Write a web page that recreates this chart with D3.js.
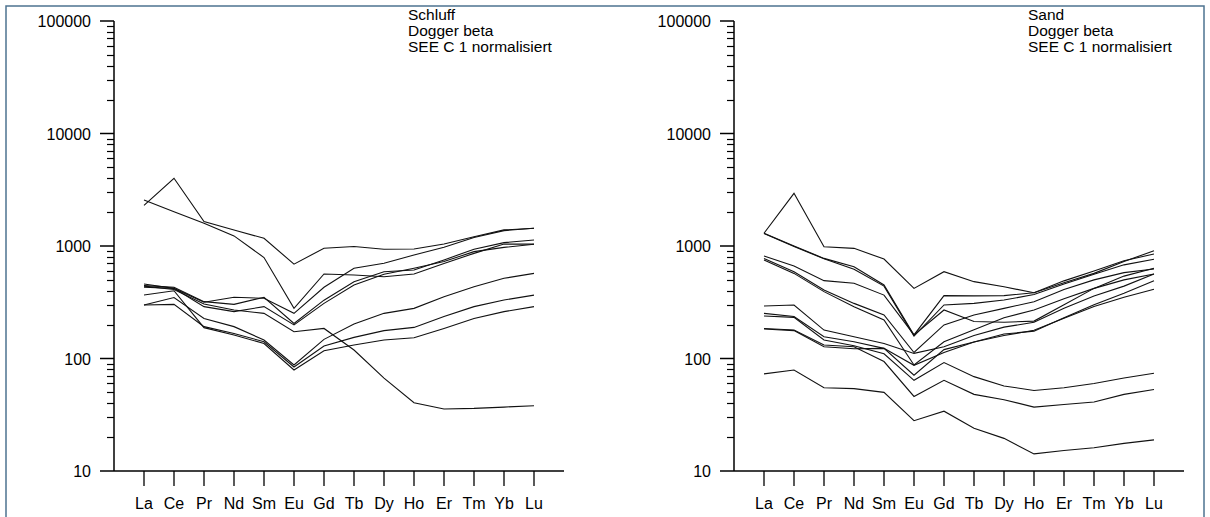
<!DOCTYPE html>
<html>
<head>
<meta charset="utf-8">
<script src="https://cdn.jsdelivr.net/npm/d3@7"></script>
<style>
  html, body { margin: 0; padding: 0; background: #ffffff; }
  svg { display: block; }
  text { font-family: "Liberation Sans", Arial, sans-serif; fill: #000; }
</style>
</head>
<body>
<svg id="chart" width="1210" height="517"></svg>
<script>
// ---------- data ----------
const elements = ["La","Ce","Pr","Nd","Sm","Eu","Gd","Tb","Dy","Ho","Er","Tm","Yb","Lu"];
const yTickValues = [10, 100, 1000, 10000, 100000];
const yTickLabels = ["10", "100", "1000", "10000", "100000"];

const schluffTitle = ["Schluff", "Dogger beta", "SEE C 1 normalisiert"];
const sandTitle = ["Sand", "Dogger beta", "SEE C 1 normalisiert"];

// Schluff samples (chondrite normalised)
const schluff1 = [2300, 4000, 1650, 1390, 1170, 690, 955, 990, 935, 940, 1040, 1210, 1390, 1440];
const schluff2 = [2560, 2020, 1590, 1230, 790, 279, 564, 552, 533, 564, 700, 860, 1040, 1040];
const schluff3 = [459, 420, 316, 350, 343, 252, 430, 634, 702, 832, 973, 1190, 1370, 1436];
const schluff4 = [444, 430, 320, 303, 350, 205, 330, 482, 591, 612, 752, 936, 1072, 1130];
const schluff5 = [430, 420, 289, 261, 289, 199, 309, 450, 560, 634, 727, 891, 973, 1036];
const schluff6 = [440, 410, 305, 270, 252, 173, 185, 119, 67, 40.4, 35.6, 36, 37, 38];
const schluff7 = [299, 348, 227, 192, 146, 87.5, 148, 203, 252, 279, 354, 434, 516, 571];
const schluff8 = [299, 303, 192, 167, 141, 84, 129, 154, 177, 189, 236, 289, 331, 366];
const schluff9 = [367, 400, 188, 162, 136, 79, 117, 132, 146, 153, 185, 227, 261, 289];

// Sand samples (chondrite normalised)
const sand1 = [1297, 2938, 986, 953, 766, 420, 591, 482, 434, 384, 472, 571, 727, 908];
const sand2 = [1300, 1000, 776, 655, 450, 162, 362, 360, 362, 384, 490, 600, 740, 849];
const sand3 = [1290, 990, 770, 620, 440, 158, 299, 309, 331, 370, 460, 560, 680, 762];
const sand4 = [815, 664, 492, 466, 366, 162, 270, 213, 210, 215, 300, 420, 540, 634];
const sand5 = [776, 591, 406, 309, 244, 113, 199, 244, 279, 320, 410, 500, 580, 625];
const sand6 = [752, 571, 393, 289, 220, 87.5, 141, 180, 230, 270, 340, 420, 500, 564];
const sand7 = [293, 299, 179, 156, 136, 111, 127, 160, 190, 210, 280, 360, 440, 564];
const sand8 = [252, 236, 156, 141, 123, 87, 113, 140, 165, 175, 230, 300, 380, 492];
const sand9 = [239, 232, 146, 130, 110, 64, 92, 69, 57, 52, 55, 60, 67, 74];
const sand10 = [185, 179, 132, 127, 94, 46, 64, 48, 43, 37, 39, 41, 48, 53];
const sand11 = [183, 177, 127, 122, 123, 71, 120, 140, 160, 178, 228, 290, 350, 412];
const sand12 = [73, 79, 55, 54, 50, 28, 34, 24, 19.5, 14.2, 15.2, 16.1, 17.6, 18.9];

const schluffSeries = [schluff1, schluff2, schluff3, schluff4, schluff5, schluff6, schluff7, schluff8, schluff9];
const sandSeries = [sand1, sand2, sand3, sand4, sand5, sand6, sand7, sand8, sand9, sand10, sand11, sand12];

// ---------- drawing ----------
const svg = d3.select("#chart");

// outer frame
svg.append("rect")
  .attr("x", 6).attr("y", 6)
  .attr("width", 1198).attr("height", 530)
  .attr("fill", "none")
  .attr("stroke", "#4d7390")
  .attr("stroke-width", 1.5);

function panel(left, series, title) {
  const plotLeft = left, plotRight = left + 450;
  const top = 21, bottom = 471;

  const x = d3.scalePoint().domain(elements).range([plotLeft + 30, plotRight - 30]);
  const y = d3.scaleLog().domain([10, 100000]).range([bottom, top]);

  const g = svg.append("g");

  // data lines
  const line = d3.line()
    .x((d, i) => x(elements[i]))
    .y(d => y(d));
  g.selectAll("path.series")
    .data(series)
    .join("path")
    .attr("class", "series")
    .attr("d", line)
    .attr("fill", "none")
    .attr("stroke", "#111")
    .attr("stroke-width", 1.1)
    .attr("stroke-linejoin", "miter");

  // y axis line
  g.append("line")
    .attr("x1", plotLeft).attr("x2", plotLeft)
    .attr("y1", y(100000)).attr("y2", y(10))
    .attr("stroke", "#000").attr("stroke-width", 1.5);

  // y minor ticks
  const minor = y.ticks().filter(v => !yTickValues.includes(v));
  g.selectAll("line.ymin")
    .data(minor)
    .join("line")
    .attr("x1", plotLeft - 7).attr("x2", plotLeft)
    .attr("y1", d => Math.round(y(d)) + 0.5).attr("y2", d => Math.round(y(d)) + 0.5)
    .attr("stroke", "#000").attr("stroke-width", 1.2);

  // y major ticks
  g.selectAll("line.ymaj")
    .data(yTickValues)
    .join("line")
    .attr("x1", plotLeft - 14).attr("x2", plotLeft)
    .attr("y1", d => y(d)).attr("y2", d => y(d))
    .attr("stroke", "#000").attr("stroke-width", 1.5);

  g.selectAll("text.ylab")
    .data(yTickValues)
    .join("text")
    .attr("x", plotLeft - 23)
    .attr("y", d => y(d) + 6)
    .attr("text-anchor", "end")
    .attr("font-size", 16)
    .text((d, i) => yTickLabels[i]);

  // x axis line
  g.append("line")
    .attr("x1", plotLeft).attr("x2", plotRight)
    .attr("y1", bottom).attr("y2", bottom)
    .attr("stroke", "#000").attr("stroke-width", 1.5);

  g.selectAll("line.xt")
    .data(elements)
    .join("line")
    .attr("x1", d => x(d)).attr("x2", d => x(d))
    .attr("y1", bottom).attr("y2", bottom + 15)
    .attr("stroke", "#000").attr("stroke-width", 1.3);

  g.selectAll("text.xlab")
    .data(elements)
    .join("text")
    .attr("x", d => x(d))
    .attr("y", 509)
    .attr("text-anchor", "middle")
    .attr("font-size", 16)
    .text(d => d);

  // title block
  g.selectAll("text.title")
    .data(title)
    .join("text")
    .attr("x", plotLeft + 294)
    .attr("y", (d, i) => 20 + i * 16)
    .attr("font-size", 15.5)
    .text(d => d);
}

panel(114, schluffSeries, schluffTitle);
panel(734, sandSeries, sandTitle);
</script>
</body>
</html>
